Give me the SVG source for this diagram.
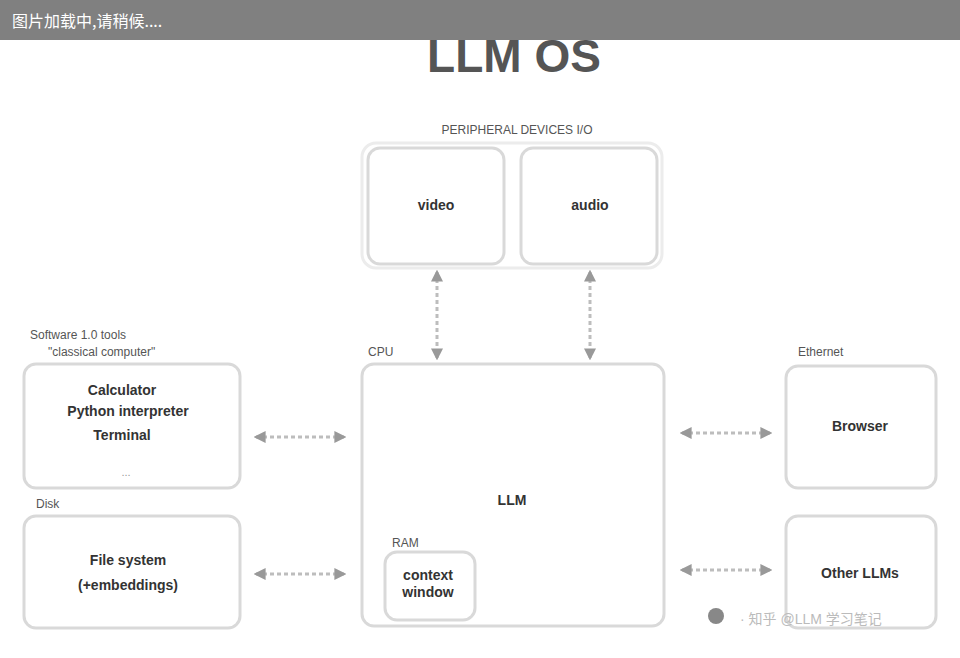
<svg xmlns="http://www.w3.org/2000/svg" width="960" height="658" viewBox="0 0 960 658">
<style>
.box{fill:#fff;stroke:#d9d9d9;stroke-width:3}
.lbl{font-family:"Liberation Sans",Arial,sans-serif;font-size:12px;fill:#555}
.txt{font-family:"Liberation Sans",Arial,sans-serif;font-size:14px;font-weight:bold;fill:#333;text-anchor:middle}
.edge{stroke:#bdbdbd;stroke-width:3;fill:none;stroke-dasharray:4 3}
.elbl{font-family:"Liberation Sans",Arial,sans-serif;font-size:11px;fill:#999;text-anchor:middle}
</style>
<defs>
<marker id="ah" viewBox="0 0 10 10" refX="8" refY="5" markerWidth="4" markerHeight="4" orient="auto-start-reverse">
<path d="M0,0 L10,5 L0,10 z" fill="#999"/>
</marker>
</defs>
<rect width="960" height="658" fill="#fff"/>
<text x="514" y="72" text-anchor="middle" font-family="Liberation Sans,Arial,sans-serif" font-size="46" font-weight="bold" fill="#555">LLM OS</text>

<g id="io">
<text class="lbl" x="517" y="134" text-anchor="middle">PERIPHERAL DEVICES I/O</text>
<rect class="box" x="362" y="143" width="300" height="125" rx="14" style="stroke:#ececec"/>
</g>
<g id="video">
<rect class="box" x="368" y="148" width="136" height="116" rx="12"/>
<text class="txt" x="436" y="210">video</text>
</g>
<g id="audio">
<rect class="box" x="521" y="148" width="136" height="116" rx="12"/>
<text class="txt" x="590" y="210">audio</text>
</g>

<g id="cpu">
<text class="lbl" x="368" y="356">CPU</text>
<rect class="box" x="362" y="364" width="302" height="262" rx="12"/>
<text class="txt" x="512" y="505" font-size="16">LLM</text>
</g>
<g id="ram">
<text class="lbl" x="392" y="547">RAM</text>
<rect class="box" x="385" y="552" width="90" height="68" rx="12"/>
<text class="txt" x="428" y="580" font-size="11">context</text>
<text class="txt" x="428" y="597" font-size="11">window</text>
</g>

<g id="tools">
<text class="lbl" x="30" y="339">Software 1.0 tools</text>
<text class="lbl" x="48" y="356">"classical computer"</text>
<rect class="box" x="24" y="364" width="216" height="124" rx="12"/>
<text class="txt" x="122" y="395">Calculator</text>
<text class="txt" x="128" y="416">Python interpreter</text>
<text class="txt" x="122" y="440">Terminal</text>
<text class="elbl" x="126" y="476">...</text>
</g>
<g id="disk">
<text class="lbl" x="36" y="508">Disk</text>
<rect class="box" x="24" y="516" width="216" height="112" rx="12"/>
<text class="txt" x="128" y="565">File system</text>
<text class="txt" x="128" y="590">(+embeddings)</text>
</g>

<g id="ethernet">
<text class="lbl" x="798" y="356">Ethernet</text>
</g>
<g id="browser">
<rect class="box" x="786" y="366" width="150" height="122" rx="12"/>
<text class="txt" x="860" y="431">Browser</text>
</g>
<g id="otherllms">
<rect class="box" x="786" y="516" width="150" height="112" rx="12"/>
<text class="txt" x="860" y="578">Other LLMs</text>
</g>

<g id="connectors">
<line class="edge" x1="437" y1="272" x2="437" y2="358" marker-start="url(#ah)" marker-end="url(#ah)"/>
<line class="edge" x1="590" y1="272" x2="590" y2="358" marker-start="url(#ah)" marker-end="url(#ah)"/>
<line class="edge" x1="256" y1="437" x2="344" y2="437" marker-start="url(#ah)" marker-end="url(#ah)"/>
<line class="edge" x1="256" y1="574" x2="344" y2="574" marker-start="url(#ah)" marker-end="url(#ah)"/>
<line class="edge" x1="682" y1="433" x2="770" y2="433" marker-start="url(#ah)" marker-end="url(#ah)"/>
<line class="edge" x1="682" y1="570" x2="770" y2="570" marker-start="url(#ah)" marker-end="url(#ah)"/>
</g>

<g id="watermark">
<circle cx="716" cy="616" r="8" fill="#888"/>
<text x="740" y="624" font-family="Liberation Sans,'Noto Sans CJK SC',sans-serif" font-size="14" fill="#bbb">·  知乎  @LLM 学习笔记</text>
</g>

<rect x="0" y="0" width="960" height="40" fill="#808080"/>
<text x="12" y="27" font-family="'Noto Sans CJK SC',sans-serif" font-size="16" fill="#fff">图片加载中,请稍候....</text>
</svg>
